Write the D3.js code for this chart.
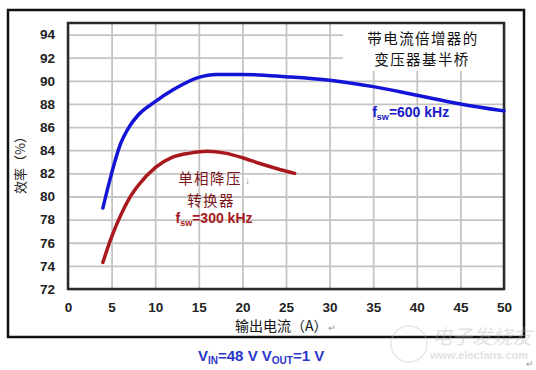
<!DOCTYPE html>
<html>

<head>
  <meta charset="utf-8">
  <script src="https://cdn.jsdelivr.net/npm/d3@7"></script>
  <style>
    body {
      margin: 0;
      background: #fff;
    }
  </style>
</head>

<body>
  <script>
    // data
    const xTicks = [0, 5, 10, 15, 20, 25, 30, 35, 40, 45, 50];
    const yTicks = [72, 74, 76, 78, 80, 82, 84, 86, 88, 90, 92, 94];

    // 变压器基半桥 600 kHz
    const current600 = [4, 5, 6, 7, 8, 10, 12, 15, 17, 20, 25, 30, 35, 40, 45, 50];
    const eff600 = [79.0, 82.0, 84.5, 86.0, 87.0, 88.2, 89.2, 90.3, 90.55, 90.55, 90.35, 90.05, 89.5, 88.75, 88.0, 87.4];

    // 单相降压转换器 300 kHz
    const current300 = [4, 5, 6, 7, 8, 10, 12, 14, 16, 18, 20, 22, 24, 26];
    const eff300 = [74.3, 76.5, 78.3, 79.8, 80.9, 82.5, 83.4, 83.75, 83.9, 83.75, 83.35, 82.85, 82.4, 82.0];

    const w = 536;
    const h = 370;
    const pLeft = 68, pRight = 504, pTop = 23, pBottom = 289;

    const xScale = d3.scaleLinear().domain([0, 50]).range([pLeft, pRight]);
    const yScale = d3.scaleLinear().domain([72, 95]).range([pBottom, pTop]);

    const svg = d3.select("body")
      .append("svg")
      .attr("width", w)
      .attr("height", h);

    const cjk = "'Noto Sans CJK SC', sans-serif";
    const num = "'Liberation Sans', Arial, sans-serif";

    // outer frame
    svg.append("rect")
      .attr("x", 8).attr("y", 10)
      .attr("width", 516).attr("height", 327)
      .attr("fill", "none")
      .attr("stroke", "#111")
      .attr("stroke-width", 2.5);

    // grid
    const gx = svg.append("g")
      .attr("transform", "translate(0," + pBottom + ")")
      .call(d3.axisBottom(xScale).tickValues(xTicks).tickSize(-(pBottom - pTop)).tickFormat(""));
    const gy = svg.append("g")
      .attr("transform", "translate(" + pLeft + ",0)")
      .call(d3.axisLeft(yScale).tickValues(yTicks).tickSize(-(pRight - pLeft)).tickFormat(""));
    [gx, gy].forEach(function (g) {
      g.select(".domain").remove();
      g.selectAll("line").attr("stroke", "#c4c4c4").attr("stroke-width", 1.8);
    });

    // white box behind the top-right note
    svg.append("rect")
      .attr("x", 343).attr("y", pTop + 1)
      .attr("width", pRight - 343 - 1).attr("height", 47)
      .attr("fill", "#fff");

    // plot border
    svg.append("rect")
      .attr("x", pLeft).attr("y", pTop)
      .attr("width", pRight - pLeft).attr("height", pBottom - pTop)
      .attr("fill", "none")
      .attr("stroke", "#2a2a2a")
      .attr("stroke-width", 2.5);

    // tick labels
    const lx = svg.append("g")
      .attr("transform", "translate(0," + pBottom + ")")
      .call(d3.axisBottom(xScale).tickValues(xTicks).tickSize(0).tickPadding(13));
    const ly = svg.append("g")
      .attr("transform", "translate(" + pLeft + ",0)")
      .call(d3.axisLeft(yScale).tickValues(yTicks).tickSize(0).tickPadding(13));
    [lx, ly].forEach(function (g) {
      g.select(".domain").remove();
      g.selectAll("text")
        .attr("font-family", num)
        .attr("font-size", "13.5px")
        .attr("font-weight", "bold")
        .attr("fill", "#222");
    });

    // curves
    const line600 = d3.line()
      .x(function (d, i) { return xScale(current600[i]); })
      .y(function (d) { return yScale(d); })
      .curve(d3.curveMonotoneX);
    const line300 = d3.line()
      .x(function (d, i) { return xScale(current300[i]); })
      .y(function (d) { return yScale(d); })
      .curve(d3.curveMonotoneX);

    svg.append("path")
      .datum(eff300)
      .attr("d", line300)
      .attr("fill", "none")
      .attr("stroke", "#a8181c")
      .attr("stroke-width", 3.5)
      .attr("stroke-linecap", "round");

    svg.append("path")
      .datum(eff600)
      .attr("d", line600)
      .attr("fill", "none")
      .attr("stroke", "#1414d8")
      .attr("stroke-width", 3.5)
      .attr("stroke-linecap", "round");

    // notes (14.5px glyphs spaced out to the wider look of the original)
    function cjkText(x, y, str, color) {
      return svg.append("text")
        .attr("x", x).attr("y", y)
        .attr("text-anchor", "middle")
        .attr("font-family", cjk)
        .attr("font-size", "14.5px")
        .attr("letter-spacing", "1.4px")
        .attr("fill", color)
        .text(str);
    }
    function fsw(x, y, value, color) {
      const t = svg.append("text")
        .attr("x", x).attr("y", y)
        .attr("text-anchor", "middle")
        .attr("font-family", num)
        .attr("font-size", "14px")
        .attr("font-weight", "bold")
        .attr("fill", color);
      t.append("tspan").text("f");
      t.append("tspan").attr("font-size", "9px").attr("dy", 3).text("sw");
      t.append("tspan").attr("dy", -3).text("=" + value + " kHz");
    }

    cjkText(423, 43.5, "带电流倍增器的", "#111");
    cjkText(422, 65, "变压器基半桥", "#111");
    fsw(xScale(39.3), 117, "600", "#1a1ac8");

    cjkText(210, 184, "单相降压", "#7a1418");
    svg.append("text")
      .attr("x", 245).attr("y", 184)
      .attr("font-family", num).attr("font-size", "10px").attr("fill", "#999").text("↓");
    cjkText(211, 206, "转换器", "#7a1418");
    fsw(214, 223, "300", "#a8181c");

    // axis titles
    svg.append("text")
      .attr("transform", "translate(25," + 162 + ") rotate(-90)")
      .attr("text-anchor", "middle")
      .attr("font-family", cjk)
      .attr("font-size", "13px")
      .attr("fill", "#222")
      .text("效率（%）");

    svg.append("text")
      .attr("x", 235).attr("y", 331)
      .attr("font-family", cjk)
      .attr("font-size", "14px")
      .attr("fill", "#111")
      .text("输出电流（A）");
    svg.append("text")
      .attr("x", 328).attr("y", 331)
      .attr("font-family", num).attr("font-size", "9px").attr("fill", "#999").text("↵");

    // conditions
    const cond = svg.append("text")
      .attr("x", 198).attr("y", 361)
      .attr("font-family", num)
      .attr("font-size", "15px")
      .attr("font-weight", "bold")
      .attr("fill", "#2a36c8");
    cond.append("tspan").text("V");
    cond.append("tspan").attr("font-size", "10px").attr("dy", 3).text("IN");
    cond.append("tspan").attr("dy", -3).text("=48 V V");
    cond.append("tspan").attr("font-size", "10px").attr("dy", 3).text("OUT");
    cond.append("tspan").attr("dy", -3).text("=1 V");

    // faint watermark
    const wm = svg.append("g").attr("opacity", 0.35);
    wm.append("circle").attr("cx", 409).attr("cy", 344).attr("r", 18)
      .attr("fill", "none").attr("stroke", "#bbb").attr("stroke-width", 1.5);
    wm.append("text").attr("x", 432).attr("y", 344)
      .attr("font-family", cjk).attr("font-size", "20px").attr("font-style", "italic")
      .attr("fill", "#aaa").text("电子发烧友");
    wm.append("text").attr("x", 430).attr("y", 359)
      .attr("font-family", num).attr("font-size", "11px").attr("font-weight", "bold")
      .attr("fill", "#aaa").text("www.elecfans.com");
    svg.append("text").attr("x", 526).attr("y", 367)
      .attr("font-family", num).attr("font-size", "9px").attr("fill", "#999").text("↵");
  </script>
</body>

</html>
